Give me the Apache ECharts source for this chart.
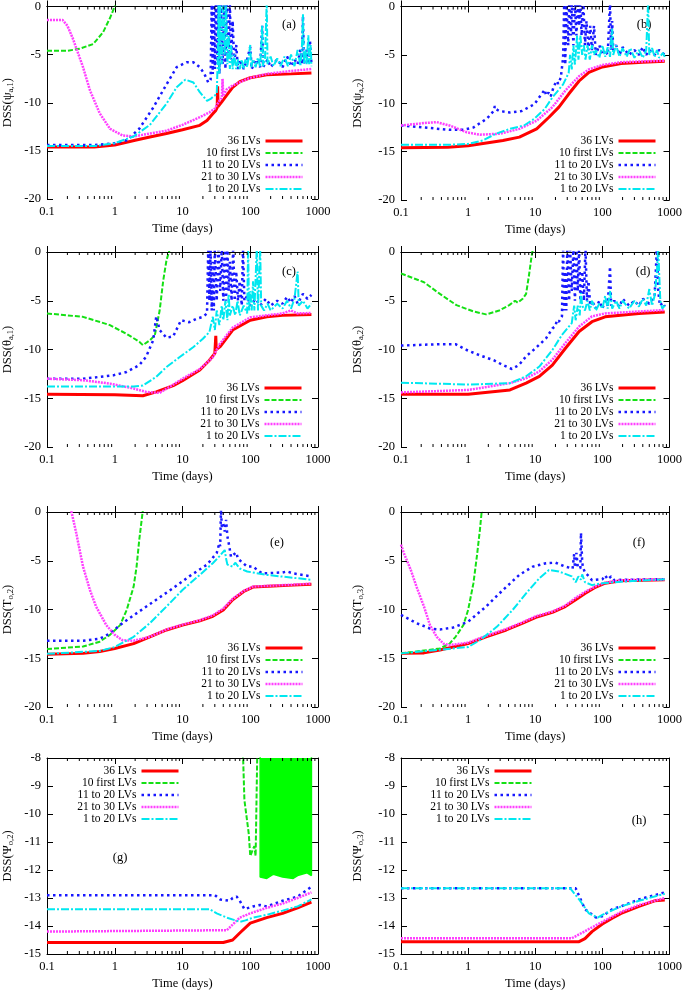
<!DOCTYPE html>
<html>
<head>
<meta charset="utf-8">
<script src="https://cdn.jsdelivr.net/npm/echarts@6/dist/echarts.min.js"></script>
<style>html,body{margin:0;padding:0;background:#fff}#c{width:685px;height:991px}</style>
</head>
<body>
<div id="c"></div>
<script>
const SERIF = '"Liberation Serif","DejaVu Serif",serif';
const seriesNames = ['36 LVs','10 first LVs','11 to 20 LVs','21 to 30 LVs','1 to 20 LVs'];
const xTickLabels = ['0.1','1','10','100','1000'];
const minorTickValues = [0.2,0.3,0.4,0.5,0.6,0.7,0.8,0.9,2,3,4,5,6,7,8,9,20,30,40,50,60,70,80,90,200,300,400,500,600,700,800,900];
const yTicksTop = [0,-5,-10,-15,-20];
const yTicksBottom = [-8,-9,-10,-11,-12,-13,-14,-15];

// ---- panel (a) DSS(psi_a,1)
const a_36 = [[0.1,-14.6],[0.5,-14.6],[1,-14.4],[2,-13.9],[3.3,-13.55],[5.8,-13.2],[10,-12.8],[18,-12.35],[23,-11.85],[28,-11.15],[31,-10.8],[32.5,-10.5],[33,-8.3],[33.5,-10.4],[38,-9.9],[45,-9.2],[55,-8.4],[70,-7.8],[100,-7.4],[175,-7.1],[400,-7.0],[800,-6.9]];
const a_10 = [[0.1,-4.6],[0.2,-4.6],[0.3,-4.4],[0.48,-3.9],[0.67,-2.7],[0.85,-1.2],[1.0,0],[1.05,0.6]];
const a_1120 = [[0.1,-14.4],[0.5,-14.4],[1,-14.2],[1.5,-13.9],[2.3,-12.7],[3.7,-10.5],[5.8,-8.1],[8.2,-6.3],[11.5,-5.8],[14.5,-5.8],[18,-6.3],[21,-7.0],[24,-7.9],[26,-7.6],[27,0.5],[28,-7],[29,0.5],[30,-6.5],[31,0.5],[33,-6],[34,0.5],[35,-7],[37,0.5],[39,-6],[41,0.5],[43,-6.5],[45,0.5],[48,-5],[50,0.5],[52,-5.5],[55,-1.5],[58,-6],[62,-4],[66,-6.5],[70,-5.5],[80,-6.5],[90,-5.5],[100,-4.2],[105,-6.5],[120,-5.5],[140,-6.3],[150,-2],[155,-6.3],[180,-5.5],[200,-6.3],[250,-5.5],[300,-6.3],[350,-5.2],[400,-6.2],[450,-5.5],[500,-6],[550,-4.5],[580,-6],[600,-1],[620,-6],[680,-4.5],[720,-6],[760,-3.5],[800,-6]];
const a_2130 = [[0.1,-1.4],[0.17,-1.4],[0.2,-2.0],[0.24,-3.3],[0.34,-6.3],[0.43,-8.7],[0.6,-11.1],[0.85,-12.7],[1.3,-13.4],[1.9,-13.5],[3.3,-13.2],[5.8,-12.9],[10,-12.3],[18,-11.5],[25,-11],[30,-10.6],[35,-9.8],[38,-9.5],[39,-7.5],[40,-9.3],[45,-8.6],[55,-8.2],[100,-7.4],[175,-7.0],[400,-6.7],[800,-6.5]];
const a_120 = [[0.1,-14.5],[0.5,-14.5],[1,-14.2],[1.9,-13.5],[3.3,-12.3],[5.8,-10.1],[8.2,-8.4],[11,-7.6],[14.5,-7.9],[18,-8.9],[23,-9.8],[26,-9.6],[28,-9.4],[32,-9.1],[33,-6],[34,0.5],[35,-7],[36,0.5],[38,-6],[40,0.5],[42,-5],[44,0.5],[46,-6],[48,-3],[50,-6.5],[52,-4],[55,-6.5],[58,-5],[62,-6.5],[66,-5.5],[70,-6.5],[75,-5.5],[80,-6.5],[85,-5.5],[90,-6.3],[95,-5.2],[100,-4],[103,-6.3],[110,-5.5],[120,-6.3],[130,-5.3],[140,-6.3],[150,-2],[155,-6.2],[165,-5.5],[175,0.5],[180,-6],[200,-5.2],[220,-6.2],[250,-5.4],[280,-6.2],[320,-5.2],[360,-6.2],[400,-5],[450,-6.2],[500,-4.5],[550,-6.2],[580,-4],[600,-0.8],[620,-6],[650,-4.5],[680,-6],[720,-3],[740,-6],[780,-4],[800,-6.2]];

// ---- panel (b) DSS(psi_a,2)
const b_36 = [[0.1,-14.6],[0.5,-14.55],[1,-14.4],[3.3,-13.85],[5.8,-13.5],[10.5,-12.65],[16,-11.45],[22.5,-10.4],[31.5,-9.05],[45,-7.7],[63,-6.8],[100,-6.25],[190,-5.9],[400,-5.75],[850,-5.65]];
const b_10 = [];
const b_1120 = [[0.1,-12.3],[0.22,-12.5],[0.53,-12.75],[0.85,-12.75],[1.2,-12.5],[1.9,-11.6],[2.4,-10.8],[2.5,-10.3],[2.6,-10.6],[2.9,-10.8],[4.2,-10.95],[6.3,-10.8],[9.7,-10.1],[12,-9.2],[13.8,-8.6],[14.5,-9.2],[15.8,-8.9],[17,-9.3],[19,-8.2],[21,-7.7],[22,-8.0],[24,-7.35],[26,-5.3],[27,0.5],[28,-6],[29,0.5],[31,-4],[32,0.5],[34,-3],[35,0.5],[37,-4],[39,0.5],[41,-3],[43,0.5],[45,-2],[47,0.5],[49,-3],[52,0.5],[55,-4],[58,-1.5],[62,-4.5],[66,-2],[70,-4.5],[75,-2],[80,-5],[90,-4],[100,-5],[110,-4.5],[120,-5],[130,0.5],[135,-4.5],[140,-1.5],[145,-4.5],[160,-4],[180,-5],[200,-4.2],[250,-5],[300,-4.5],[350,-5],[400,-4.2],[450,-5],[500,-4.5],[600,-5],[700,-4.5],[850,-5]];
const b_2130 = [[0.1,-12.3],[0.22,-12.05],[0.34,-11.95],[0.53,-12.3],[0.95,-13.0],[1.5,-13.25],[3,-13.15],[5.8,-12.65],[10.5,-11.8],[18,-10.4],[28,-8.7],[45,-7.2],[63,-6.5],[100,-6.05],[190,-5.75],[850,-5.6]];
const b_120 = [[0.1,-14.3],[0.5,-14.3],[1,-14.2],[1.65,-13.85],[2.6,-13.15],[4.2,-12.65],[6.8,-12.3],[9.7,-11.6],[13.8,-10.6],[18,-9.4],[26,-8.05],[31.5,-6.85],[33,-5],[35,-6.5],[37,-4],[39,-6],[42,-3],[44,-5.5],[47,-3],[50,-5],[53,-4],[56,-5.5],[60,-4],[65,-5.5],[70,-4],[75,-5],[80,-4.5],[90,-5.3],[100,-4],[110,-5.2],[120,-4.2],[130,-5.2],[140,-2.3],[145,-5],[160,-4],[180,-5.2],[200,-4.3],[230,-5.2],[260,-4.3],[300,-5.3],[350,-4.5],[400,-5.3],[450,-4.5],[480,0.5],[500,-5],[550,-4.3],[600,-5.2],[650,-4.5],[700,-5.3],[800,-4.8],[850,-5.2]];

// ---- panel (c) DSS(theta_a,1)
const c_36 = [[0.1,-14.6],[1,-14.65],[2.6,-14.75],[4.1,-14.35],[7.3,-13.7],[10,-13.2],[18,-12.1],[25,-11.1],[30,-10.4],[31,-8.6],[31.5,-10.0],[36,-9.7],[55,-8.0],[100,-7.0],[175,-6.65],[300,-6.5],[800,-6.4]];
const c_10 = [[0.1,-6.3],[0.34,-6.65],[0.85,-7.5],[1.5,-8.4],[2.3,-9.2],[2.6,-9.55],[3.3,-9.05],[3.9,-8.55],[4.6,-6.0],[5.2,-2.9],[5.8,-0.85],[6.5,0.3]];
const c_1120 = [[0.1,-13.0],[0.34,-13.0],[0.95,-12.65],[1.5,-12.3],[2.3,-11.6],[2.9,-10.75],[3.7,-9.05],[4.1,-6.6],[4.6,-8.0],[5.8,-8.8],[7.3,-8.65],[9.5,-7.0],[12.6,-7.2],[16,-6.85],[20,-6.65],[23,-6.3],[24,0.5],[25,-5],[26,0.5],[27,-6],[28,-1],[29,-6],[30,0.5],[32,-5],[34,0.5],[36,-4],[38,0.5],[40,-5],[42,0.5],[44,-5],[46,0.5],[48,-4],[50,-1],[53,-5],[56,0.5],[59,-5],[62,-2],[66,-5],[70,-3],[75,-5.5],[78,0.5],[82,-5],[90,-4.5],[100,-5.5],[120,-4.8],[140,-5.5],[170,-4.8],[200,-5.5],[250,-5],[300,-5.3],[350,-4.6],[400,-5.2],[450,-4.5],[500,-5.3],[600,-4.3],[700,-4.8],[800,-4.4]];
const c_2130 = [[0.1,-13.0],[0.34,-13.15],[0.85,-13.5],[1.9,-14.0],[2.9,-14.35],[4.6,-14.45],[7.3,-13.6],[10,-13.0],[18,-12.0],[28,-10.8],[35,-9.5],[55,-7.75],[100,-6.7],[300,-6.3],[400,-6.0],[500,-6.3],[800,-6.25]];
const c_120 = [[0.1,-13.8],[1.9,-13.8],[2.6,-13.7],[4.1,-12.8],[5.8,-11.8],[9.2,-10.75],[14.5,-9.75],[20,-8.9],[25,-8.2],[28,-6.65],[30,-8],[32,-6],[35,-7.5],[38,-5.5],[40,-7],[43,-5],[46,-7],[48,-4.3],[50,-6.5],[55,-5.5],[60,-6.5],[65,-5],[70,-6.5],[80,-5.5],[90,-6.3],[93,0.5],[96,-6],[100,-4],[105,-6],[110,-3],[115,-6],[125,0.5],[130,-6],[140,0.5],[145,-5.5],[160,-6],[180,-5.3],[200,-6],[250,-5.3],[300,-5.8],[350,-5],[400,-5.8],[450,-4.8],[500,-2],[520,-5.5],[600,-5],[700,-5.8],[800,-5.3]];

// ---- panel (d) DSS(theta_a,2)
const d_36 = [[0.1,-14.6],[1,-14.6],[4.2,-14.15],[7.3,-13.45],[11.5,-12.75],[18,-11.6],[28,-9.9],[45,-8.15],[70,-7.15],[110,-6.65],[350,-6.3],[850,-6.15]];
const d_10 = [[0.1,-2.2],[0.22,-3.1],[0.38,-4.3],[0.67,-5.45],[1.2,-6.1],[1.85,-6.4],[2.9,-6.0],[4.1,-5.45],[5.0,-5.0],[5.5,-5.2],[6.5,-4.8],[7.3,-4.3],[8.0,-2.55],[8.8,-0.5],[9.2,0.3]];
const d_1120 = [[0.1,-9.6],[0.38,-9.45],[0.65,-9.45],[0.95,-10.05],[1.5,-10.6],[2.4,-11.1],[3.3,-11.6],[4.5,-12.0],[5.7,-11.6],[7.3,-10.7],[10,-9.9],[14.5,-8.85],[18,-7.85],[20,-7.6],[21,-7.0],[22.5,-7.15],[25,-6.6],[26,0.5],[27,-6],[28,-2],[29,-6],[30,0.5],[32,-5],[33,0.5],[35,-4],[37,0.5],[39,-5],[41,0.5],[43,-4],[45,0.5],[47,-5],[50,-2],[53,-5],[56,0.5],[59,-5],[62,-3],[66,-5.5],[70,-5],[80,-5.8],[90,-5],[100,-5.8],[110,-5],[120,-5.5],[130,-1.5],[135,-5.5],[150,-5],[180,-5.6],[200,-4.8],[250,-5.5],[300,-5],[350,-5.5],[400,-4.8],[500,-5.3],[600,-4.5],[650,0.5],[680,-4],[720,-5.5],[800,-5.2],[850,-5.6]];
const d_2130 = [[0.1,-14.4],[1,-14.15],[4.2,-13.45],[7.3,-12.95],[11.5,-12.25],[18,-11.05],[28,-9.35],[45,-7.65],[70,-6.6],[110,-6.3],[850,-5.95]];
const d_120 = [[0.1,-13.4],[1,-13.6],[4.2,-13.45],[7.3,-12.75],[11.5,-11.75],[18,-10.05],[25,-8.5],[35,-7.3],[38,-5.5],[40,-7],[43,-5.5],[46,-6.5],[48,-4.2],[50,-5.5],[55,-6],[60,-5],[65,-6],[70,-5],[80,-6],[90,-5.3],[100,-5.8],[110,-4.5],[120,-5.8],[130,-4],[140,-5.8],[160,-5],[180,-5.8],[200,-5],[250,-5.8],[300,-5],[350,-5.6],[400,-4.8],[450,-5.5],[500,-3.8],[550,-5.5],[600,-4.5],[650,-2],[680,0.5],[700,-2],[730,-5],[780,-5.8],[850,-5.5]];

// ---- panel (e) DSS(T_o,2)
const e_36 = [[0.1,-14.6],[0.34,-14.5],[0.6,-14.3],[1,-14.0],[1.9,-13.5],[3.3,-12.8],[5.8,-12.1],[10,-11.6],[18,-11.15],[28,-10.7],[40,-10.05],[55,-9.0],[80,-8.15],[110,-7.7],[220,-7.6],[430,-7.5],[800,-7.4]];
const e_10 = [[0.1,-14.05],[0.34,-13.8],[0.6,-13.3],[0.85,-12.6],[1.2,-11.6],[1.5,-10.05],[1.9,-7.65],[2.1,-5.6],[2.3,-2.85],[2.6,0.2]];
const e_1120 = [[0.1,-13.2],[0.34,-13.2],[0.6,-13.0],[0.85,-12.45],[1.3,-11.4],[2.3,-10.2],[4.1,-9.0],[7.3,-7.8],[12.6,-6.6],[23,-5.4],[32,-4.2],[35,-3.2],[36,-3.5],[37,0.3],[38,-1.5],[40,-1.2],[42,-2.0],[44,-0.8],[46,-2.5],[49,-3.5],[52,-4.6],[55,-4.4],[62,-4.15],[66,-4.8],[70,-4.9],[90,-5.6],[110,-5.6],[115,-5.4],[130,-6.0],[150,-6.3],[300,-6.2],[350,-6.1],[430,-6.3],[800,-6.6]];
const e_2130 = [[0.22,1],[0.23,0],[0.27,-2.15],[0.34,-5.6],[0.43,-8],[0.53,-9.7],[0.75,-11.6],[1,-12.6],[1.3,-13.15],[1.9,-13.2],[3.3,-12.8],[5.8,-12.05],[10,-11.55],[18,-11.1],[28,-10.6],[40,-9.9],[55,-8.9],[80,-8.1],[110,-7.65],[220,-7.55],[800,-7.35]];
const e_120 = [[0.1,-14.55],[0.6,-14.25],[1,-13.85],[1.9,-12.8],[3.3,-11.4],[5.8,-9.7],[10,-8.0],[18,-6.45],[28,-5.25],[35,-4.55],[42,-3.9],[44,-4.8],[46,-5.4],[55,-5.6],[60,-5.2],[70,-5.8],[90,-6.1],[175,-6.45],[800,-6.95]];

// ---- panel (f) DSS(T_o,3)
const f_36 = [[0.1,-14.5],[0.22,-14.45],[0.38,-14.15],[1,-13.5],[1.85,-12.8],[3.7,-12.1],[6.5,-11.4],[10.2,-10.8],[18,-10.3],[28,-9.7],[40,-9.0],[55,-8.35],[80,-7.7],[110,-7.3],[190,-7.05],[850,-6.95]];
const f_10 = [[0.1,-14.5],[0.38,-14.0],[0.53,-13.5],[0.65,-12.8],[0.85,-11.6],[1.0,-10.05],[1.2,-7.3],[1.35,-4.55],[1.5,-1.8],[1.6,0.2]];
const f_1120 = [[0.1,-10.55],[0.17,-11.4],[0.27,-11.95],[0.38,-12.05],[0.6,-11.85],[1,-11.25],[1.85,-9.7],[3.3,-8.0],[5.8,-6.45],[9.2,-5.6],[14.5,-5.25],[20,-5.2],[28,-5.6],[36,-5.8],[38,-4.3],[39,-5.7],[41,-4.2],[43,-5.6],[47,-5.8],[48,-2.15],[50,-5.0],[51,-5.6],[55,-6.2],[63,-6.6],[70,-7.0],[80,-6.95],[100,-6.9],[110,-6.5],[120,-6.9],[135,-6.6],[150,-7.0],[190,-6.95],[850,-6.9]];
const f_2130 = [[0.1,-3.35],[0.11,-4.2],[0.14,-5.95],[0.17,-7.65],[0.22,-9.7],[0.27,-11.6],[0.34,-12.8],[0.43,-13.5],[0.53,-13.65],[1,-13.4],[1.85,-12.7],[3.7,-12.0],[6.5,-11.3],[10.2,-10.7],[18,-10.2],[28,-9.6],[40,-8.8],[55,-8.2],[80,-7.6],[110,-7.25],[190,-7.0],[850,-6.9]];
const f_120 = [[0.1,-14.5],[1,-13.85],[1.5,-13.15],[2.7,-11.75],[4.6,-10.05],[7.3,-8.35],[11.5,-6.8],[16,-5.95],[22.5,-6.1],[35,-6.6],[40,-7.2],[44,-6.6],[48,-6.95],[50,-6.4],[55,-7.2],[70,-7.5],[100,-7.3],[190,-7.15],[850,-6.9]];

// ---- panel (g) DSS(Psi_o,2)
const g_36 = [[0.1,-14.59],[40,-14.59],[55,-14.5],[70,-14.25],[100,-13.9],[175,-13.7],[300,-13.55],[500,-13.35],[800,-13.15]];
const g_10 = [[78,-7.8],[82,-9.5],[95,-10.7],[100,-11.5],[110,-11.25],[115,-11.15],[120,-11.5],[126,-11.5],[127,-7.8]];
const g_10_band = [[140,-7.8],[140,-12.25],[175,-12.3],[220,-12.15],[300,-12.25],[430,-12.3],[500,-12.2],[690,-12.1],[800,-12.2],[800,-7.8]];
const g_1120 = [[0.1,-12.9],[30,-12.9],[36,-13.05],[50,-13.1],[55,-13.0],[63,-12.95],[70,-13.1],[82,-13.4],[110,-13.3],[140,-13.25],[175,-13.3],[300,-13.1],[500,-12.95],[800,-12.6]];
const g_2130 = [[0.1,-14.2],[45,-14.15],[55,-13.95],[70,-13.7],[100,-13.55],[175,-13.35],[300,-13.2],[500,-13.0],[800,-12.8]];
const g_120 = [[0.1,-13.4],[25,-13.4],[32,-13.55],[45,-13.7],[70,-13.85],[85,-13.8],[110,-13.7],[175,-13.6],[300,-13.45],[500,-13.3],[800,-13.05]];

// ---- panel (h) DSS(Psi_o,3)
const h_36 = [[0.1,-14.56],[45,-14.56],[55,-14.45],[70,-14.2],[100,-13.93],[140,-13.72],[190,-13.55],[350,-13.3],[600,-13.1],[850,-13.07]];
const h_10 = [];
const h_1120 = [[0.1,-12.65],[40,-12.65],[55,-13.4],[80,-13.7],[100,-13.65],[140,-13.4],[190,-13.3],[350,-13.05],[850,-12.8]];
const h_2130 = [[0.1,-14.44],[35,-14.44],[45,-14.3],[70,-14.05],[100,-13.85],[190,-13.5],[350,-13.25],[850,-13.0]];
const h_120 = [[0.1,-12.65],[33,-12.65],[45,-13.05],[63,-13.55],[85,-13.7],[100,-13.6],[190,-13.3],[350,-13.1],[850,-12.85]];

// ---------------- layout / styles ----------------
const lineStyles = [
  {color:'#ff0000', width:3,   type:'solid'},
  {color:'#14e014', width:2,   type:[5,2]},
  {color:'#1818ff', width:2.5, type:[2.5,3.5]},
  {color:'#ff40ff', width:2.5, type:[2,1]},
  {color:'#00e8f0', width:2,   type:[8,2,2,2]}
];
const panels = [
  {lab:'(a)', lx:289, ly:25,  grid:{left:47, top:5,   width:271, height:194}, yr:yTicksTop,    sym:'ψ', sub:'a,1', gap:32, lg:{right:381, top:135}, data:[a_36,a_10,a_1120,a_2130,a_120]},
  {lab:'(b)', lx:644, ly:25,  grid:{left:401, top:5,  width:271, height:195}, yr:yTicksTop,    sym:'ψ', sub:'a,2', gap:36, lg:{right:28,  top:135}, data:[b_36,b_10,b_1120,b_2130,b_120]},
  {lab:'(c)', lx:289, ly:272, grid:{left:47, top:252, width:271, height:195}, yr:yTicksTop,    sym:'θ', sub:'a,1', gap:32, lg:{right:382, top:382}, data:[c_36,c_10,c_1120,c_2130,c_120]},
  {lab:'(d)', lx:643, ly:272, grid:{left:401, top:252,width:271, height:195}, yr:yTicksTop,    sym:'θ', sub:'a,2', gap:36, lg:{right:28,  top:382}, data:[d_36,d_10,d_1120,d_2130,d_120]},
  {lab:'(e)', lx:277, ly:543, grid:{left:47, top:512, width:271, height:195}, yr:yTicksTop,    sym:'T', sub:'o,2', gap:32, lg:{right:381, top:642}, data:[e_36,e_10,e_1120,e_2130,e_120]},
  {lab:'(f)', lx:639, ly:543, grid:{left:401, top:512,width:271, height:195}, yr:yTicksTop,    sym:'T', sub:'o,3', gap:36, lg:{right:28,  top:642}, data:[f_36,f_10,f_1120,f_2130,f_120]},
  {lab:'(g)', lx:120, ly:858, grid:{left:47, top:758, width:271, height:196}, yr:yTicksBottom, sym:'Ψ', sub:'o,2', gap:32, lg:{right:505, top:765}, data:[g_36,g_10,g_1120,g_2130,g_120], band:g_10_band},
  {lab:'(h)', lx:639, ly:821, grid:{left:401, top:758,width:271, height:196}, yr:yTicksBottom, sym:'Ψ', sub:'o,3', gap:36, lg:{right:152, top:765}, data:[h_36,h_10,h_1120,h_2130,h_120]}
];

const grids=[], xAxes=[], yAxes=[], series=[], legends=[], graphics=[];
const axisLineStyle = {show:true, lineStyle:{color:'#000', width:1}};
panels.forEach((p, i) => {
  grids.push(Object.assign({show:false}, p.grid));
  const ymax = p.yr[0], ymin = p.yr[p.yr.length-1], yint = p.yr[0]-p.yr[1];
  const xb = xAxes.length;
  xAxes.push({type:'log', logBase:10, gridIndex:i, position:'bottom', min:0.1, max:1000,
    axisLine:axisLineStyle, axisTick:{inside:true, length:6, lineStyle:{color:'#000'}},
    splitLine:{show:false},
    axisLabel:{margin:6, fontFamily:SERIF, fontSize:12.5, color:'#000',
      formatter: v => xTickLabels[Math.round(Math.log10(v))+1]},
    name:'Time (days)', nameLocation:'middle', nameGap:23,
    nameTextStyle:{fontFamily:SERIF, fontSize:12.5, color:'#000'}});
  xAxes.push({type:'log', logBase:10, gridIndex:i, position:'top', min:0.1, max:1000,
    axisLine:axisLineStyle, axisTick:{inside:true, length:6, lineStyle:{color:'#000'}},
    splitLine:{show:false}, axisLabel:{show:false}});
  const yb = yAxes.length;
  const rich = {
    n:{fontFamily:SERIF, fontSize:12.5, lineHeight:14, color:'#000'},
    s:{fontFamily:SERIF, fontSize:8.5, lineHeight:6, color:'#000', verticalAlign:'bottom'}
  };
  yAxes.push({type:'value', gridIndex:i, position:'left', min:ymin, max:ymax, interval:yint,
    axisLine:axisLineStyle, axisTick:{inside:true, length:6, lineStyle:{color:'#000'}},
    splitLine:{show:false},
    axisLabel:{margin:6, fontFamily:SERIF, fontSize:12.5, color:'#000'},
    name:'{n|DSS(' + p.sym + '}{s|' + p.sub + '}{n|)}', nameLocation:'middle', nameRotate:90, nameGap:p.gap,
    nameTextStyle:{rich:rich}});
  yAxes.push({type:'value', gridIndex:i, position:'right', min:ymin, max:ymax, interval:yint,
    axisLine:axisLineStyle, axisTick:{inside:true, length:6, lineStyle:{color:'#000'}},
    splitLine:{show:false}, axisLabel:{show:false}});

  // minor ticks of the log x axis (bottom and top), placed through the axis scale
  series.push({type:'custom', xAxisIndex:xb, yAxisIndex:yb, silent:true, clip:false, z:5,
    data: minorTickValues.map(v => [v, ymin]),
    encode:{x:0, y:1},
    renderItem:(params, api) => {
      const b = api.coord([api.value(0), ymin]);
      const t = api.coord([api.value(0), ymax]);
      return {type:'group', children:[
        {type:'line', shape:{x1:b[0], y1:b[1], x2:b[0], y2:b[1]-3}, style:{stroke:'#000', lineWidth:1}},
        {type:'line', shape:{x1:t[0], y1:t[1], x2:t[0], y2:t[1]+3}, style:{stroke:'#000', lineWidth:1}}
      ]};
    }});

  seriesNames.forEach((nm, k) => {
    if (k === 1 && p.band) {
      series.push({type:'line', name:nm, xAxisIndex:xb, yAxisIndex:yb, data:p.band,
        symbol:'none', clip:true, silent:true, color:'#00ff00',
        lineStyle:{color:'#00ff00', width:1.5, type:'solid'},
        areaStyle:{color:'#00ff00', opacity:1, origin:'end'}});
    }
    series.push({type:'line', name:nm, xAxisIndex:xb, yAxisIndex:yb, data:p.data[k],
      symbol:'none', showSymbol:false, clip:true, silent:true,
      color:lineStyles[k].color, itemStyle:{color:lineStyles[k].color},
      lineStyle:Object.assign({cap:'butt'}, lineStyles[k])});
  });

  legends.push({orient:'vertical', align:'right', right:p.lg.right, top:p.lg.top,
    padding:0, itemGap:0, itemWidth:37, itemHeight:11.8, selectedMode:false, data:seriesNames,
    lineStyle:{width:'inherit'},
    itemStyle:{color:'rgba(0,0,0,0)', borderColor:'rgba(0,0,0,0)', borderWidth:0, opacity:0},
    textStyle:{fontFamily:SERIF, fontSize:11.5, color:'#000'}});

  graphics.push({type:'text', x:p.lx, y:p.ly, style:{text:p.lab, font:'12.5px ' + SERIF, fill:'#000', align:'center', verticalAlign:'middle'}});
});

const chart = echarts.init(document.getElementById('c'), null, {renderer:'canvas'});
chart.setOption({
  animation:false,
  backgroundColor:'#fff',
  grid:grids, xAxis:xAxes, yAxis:yAxes, series:series, legend:legends, graphic:graphics
});
</script>
</body>
</html>
